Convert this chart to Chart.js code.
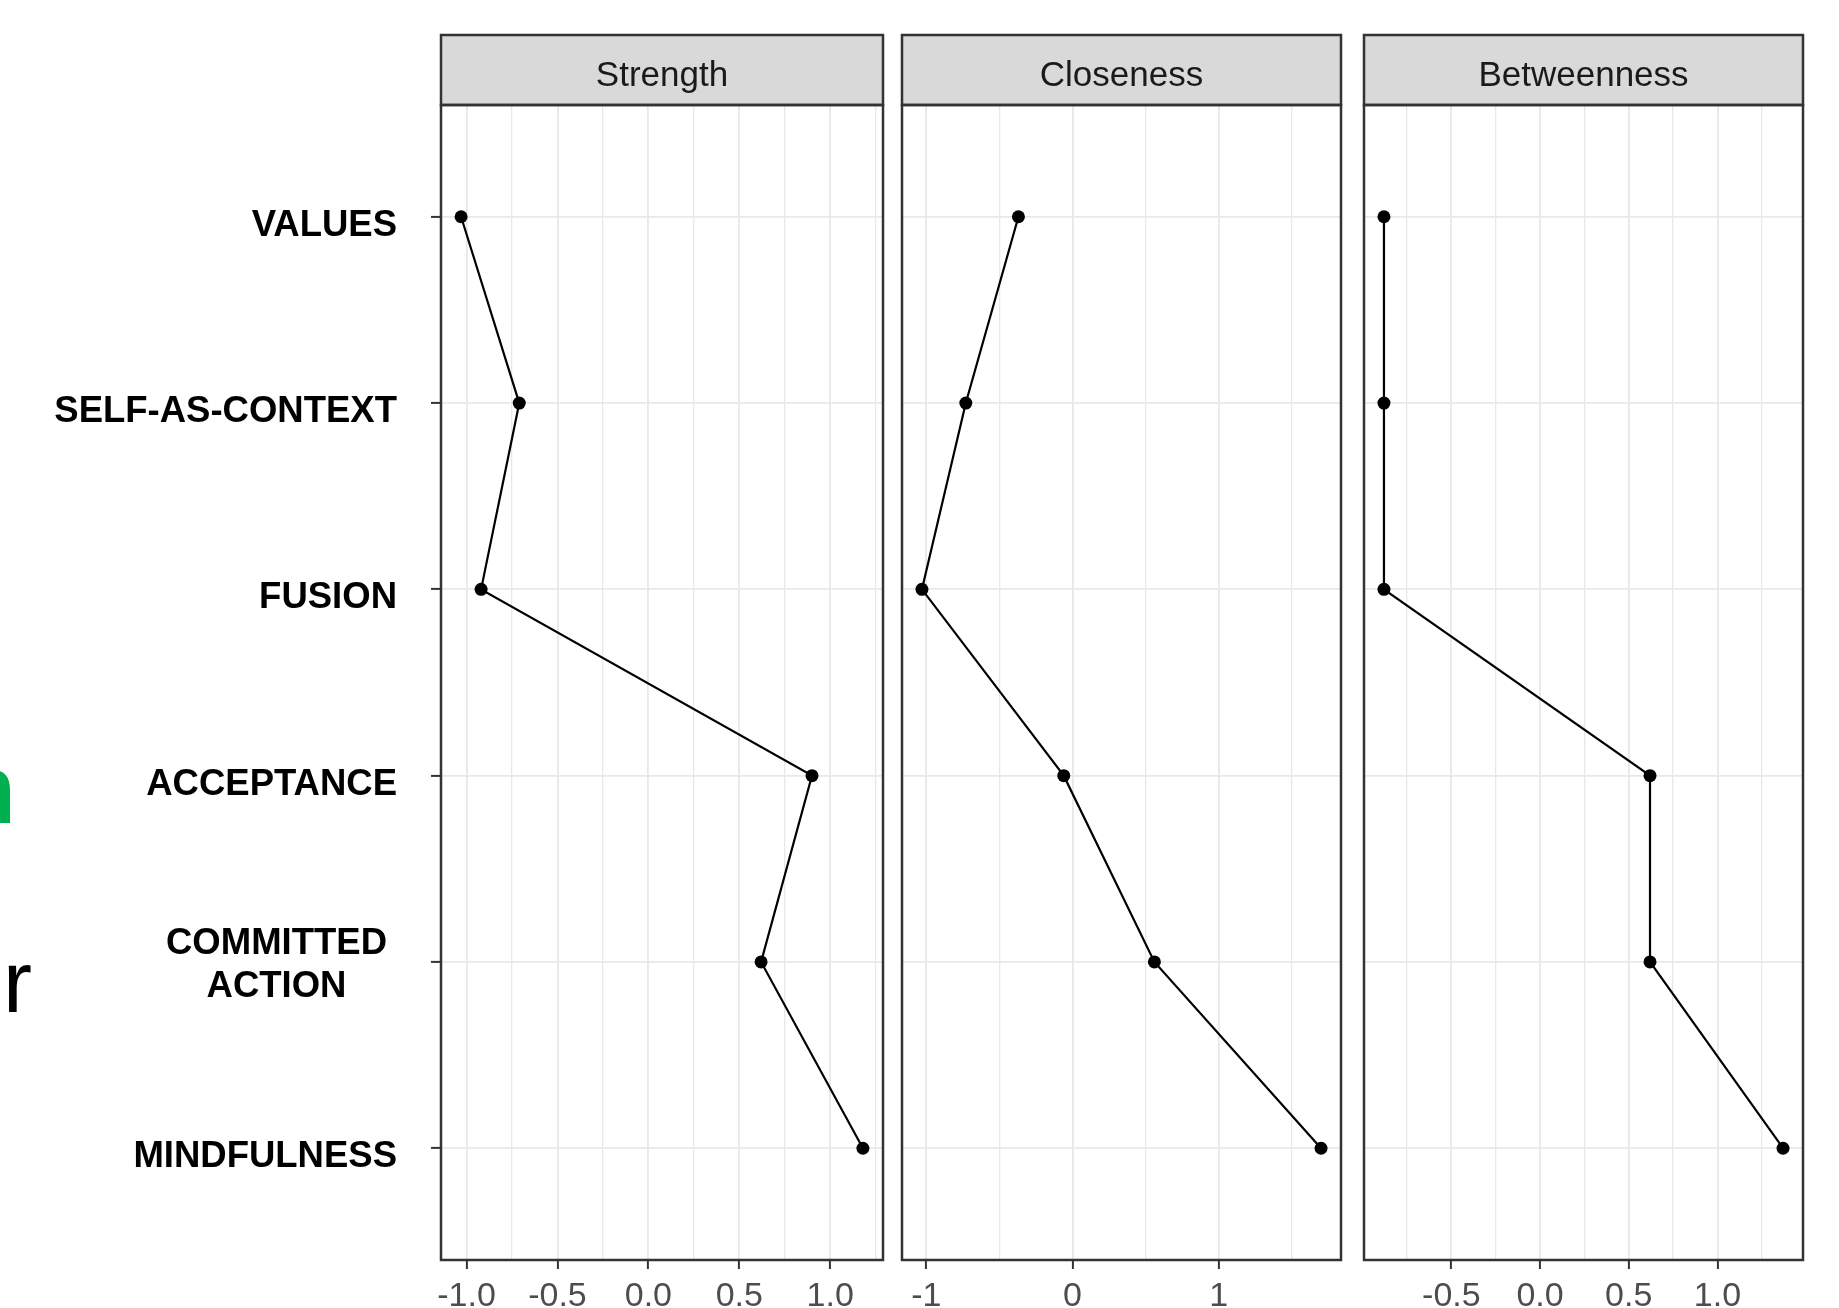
<!DOCTYPE html>
<html>
<head>
<meta charset="utf-8">
<script src="https://cdn.jsdelivr.net/npm/chart.js@4.4.1/dist/chart.umd.min.js"></script>
<style>
  html, body { margin: 0; padding: 0; background: #fff; }
  body { width: 1839px; height: 1308px; overflow: hidden; position: relative;
         font-family: "Liberation Sans", Arial, sans-serif; }
  canvas { position: absolute; left: 0; top: 0; }
  .frag { position: absolute; white-space: nowrap; line-height: 1; text-align: right;
          font-family: "Liberation Sans", Arial, sans-serif; }
</style>
</head>
<body>
<!-- edge of the slide text that sits behind the figure -->
<div class="frag" style="left:-200px;width:216px;top:740px;font-size:98px;font-weight:bold;color:#00b050">n</div>
<div class="frag" style="left:-200px;width:232px;top:938px;font-size:87px;color:#000">or</div>

<canvas id="c0" width="1839" height="1308"></canvas>
<canvas id="c1" width="1839" height="1308"></canvas>
<canvas id="c2" width="1839" height="1308"></canvas>

<script>
// Centrality indices (standardised) per ACT process
const categories = ['VALUES', 'SELF-AS-CONTEXT', 'FUSION', 'ACCEPTANCE', 'COMMITTED\nACTION', 'MINDFULNESS'];
const strength    = [-1.03, -0.71, -0.92, 0.90, 0.62, 1.18];
const closeness   = [-0.37, -0.73, -1.03, -0.06, 0.56, 1.70];
const betweenness = [-0.88, -0.88, -0.88, 0.62, 0.62, 1.37];

const panelTitles = ['Strength', 'Closeness', 'Betweenness'];
const strengthTicks    = [-1.0, -0.5, 0.0, 0.5, 1.0];
const closenessTicks   = [-1, 0, 1];
const betweennessTicks = [-0.5, 0.0, 0.5, 1.0];

// layout of the three facets on the page
const PAGE_W = 1839, PAGE_H = 1308;
const STRIP_TOP = 35, PANEL_TOP = 105, PANEL_BOTTOM = 1260;
const panels = [
  { id: 'c0', title: panelTitles[0], values: strength,    ticks: strengthTicks,    decimals: 1, left: 441,  right: 883 },
  { id: 'c1', title: panelTitles[1], values: closeness,   ticks: closenessTicks,   decimals: 0, left: 902,  right: 1341 },
  { id: 'c2', title: panelTitles[2], values: betweenness, ticks: betweennessTicks, decimals: 1, left: 1364, right: 1803 }
];

const FONT = '"Liberation Sans", Arial, sans-serif';
const BORDER = '#333333';

// ggplot-like 5% expansion of the data range
function expandedRange(vals) {
  const lo = Math.min(...vals), hi = Math.max(...vals);
  const pad = (hi - lo) * 0.05;
  return [lo - pad, hi + pad];
}

// minor breaks halfway between majors, kept inside the limits
function minorBreaks(majors, lo, hi) {
  const step = majors[1] - majors[0];
  const out = [];
  for (let v = majors[0] - step / 2; v <= majors[majors.length - 1] + step / 2 + 1e-9; v += step) {
    const r = Math.round(v * 1000) / 1000;
    if (r >= lo && r <= hi) out.push(r);
  }
  return out;
}

// strip header and panel frame
const facetFrame = {
  id: 'facetFrame',
  afterDraw(chart, args, opts) {
    const { ctx, chartArea: a } = chart;
    ctx.save();
    ctx.fillStyle = '#d9d9d9';
    ctx.fillRect(a.left, STRIP_TOP, a.right - a.left, a.top - STRIP_TOP);
    ctx.strokeStyle = BORDER;
    ctx.lineWidth = 2.5;
    ctx.strokeRect(a.left, STRIP_TOP, a.right - a.left, a.top - STRIP_TOP);
    ctx.strokeRect(a.left, a.top, a.right - a.left, a.bottom - a.top);
    ctx.fillStyle = '#1a1a1a';
    ctx.font = '35px ' + FONT;
    ctx.textAlign = 'center';
    ctx.textBaseline = 'alphabetic';
    ctx.fillText(opts.title, (a.left + a.right) / 2, 86);
    ctx.restore();
  }
};

// bold category names left of the first facet
const categoryLabels = {
  id: 'categoryLabels',
  afterDraw(chart, args, opts) {
    if (!opts.show) return;
    const { ctx } = chart;
    const y = chart.scales.y;
    const rightEdge = chart.chartArea.left - 44;
    const lineH = 43;
    ctx.save();
    ctx.fillStyle = '#000';
    ctx.font = 'bold 36.5px ' + FONT;
    ctx.textBaseline = 'alphabetic';
    categories.forEach((label, i) => {
      const lines = label.split('\n');
      const py = y.getPixelForValue(i + 1);
      if (lines.length === 1) {
        ctx.textAlign = 'right';
        ctx.fillText(lines[0], rightEdge, py + 19);
      } else {
        const maxW = Math.max(...lines.map(l => ctx.measureText(l).width));
        const cx = rightEdge - maxW / 2 - 10;
        ctx.textAlign = 'center';
        lines.forEach((l, k) => {
          ctx.fillText(l, cx, py + 13.5 + (k - (lines.length - 1) / 2) * lineH);
        });
      }
    });
    ctx.restore();
  }
};

panels.forEach((p, idx) => {
  const first = idx === 0;
  const [xmin, xmax] = expandedRange(p.values);
  const minors = minorBreaks(p.ticks, xmin, xmax);
  const isMajor = v => p.ticks.some(t => Math.abs(t - v) < 1e-6);
  const allTicks = [...p.ticks, ...minors].sort((a, b) => a - b);

  new Chart(document.getElementById(p.id), {
    type: 'scatter',
    data: {
      datasets: [{
        data: p.values.map((v, i) => ({ x: v, y: i + 1 })),
        showLine: true,
        borderColor: '#000',
        borderWidth: 2.2,
        backgroundColor: '#000',
        pointRadius: 6.5,
        pointBorderWidth: 0,
        pointBackgroundColor: '#000',
        tension: 0,
        fill: false,
        clip: false
      }]
    },
    options: {
      responsive: false,
      animation: false,
      events: [],
      layout: {
        padding: { left: first ? 0 : p.left, right: PAGE_W - p.right, top: PANEL_TOP, bottom: 0 }
      },
      plugins: {
        legend: { display: false },
        tooltip: { enabled: false },
        facetFrame: { title: p.title },
        categoryLabels: { show: first }
      },
      scales: {
        x: {
          type: 'linear',
          position: 'bottom',
          min: xmin,
          max: xmax,
          afterBuildTicks: s => { s.ticks = allTicks.map(v => ({ value: v })); },
          afterFit: s => { s.height = PAGE_H - PANEL_BOTTOM; },
          border: { display: false },
          grid: {
            color: '#e8e8e8',
            lineWidth: ctx => (ctx.tick && isMajor(ctx.tick.value)) ? 1.8 : 1.3,
            drawTicks: true,
            tickLength: 9,
            tickWidth: 2,
            tickColor: ctx => (ctx.tick && isMajor(ctx.tick.value)) ? BORDER : 'rgba(0,0,0,0)'
          },
          ticks: {
            autoSkip: false,
            maxRotation: 0,
            padding: 7,
            color: '#4d4d4d',
            font: { family: FONT, size: 34 },
            callback: v => isMajor(v) ? Number(v).toFixed(p.decimals) : ''
          }
        },
        y: {
          type: 'linear',
          position: 'left',
          reverse: true,
          min: 0.4,
          max: 6.6,
          afterBuildTicks: s => { s.ticks = categories.map((c, i) => ({ value: i + 1 })); },
          afterFit: s => { s.width = first ? p.left : 0; },
          border: { display: false },
          grid: {
            color: '#e8e8e8',
            lineWidth: 1.8,
            drawTicks: first,
            tickLength: 10,
            tickWidth: 2,
            tickColor: BORDER
          },
          ticks: { display: false }
        }
      }
    },
    plugins: [facetFrame, categoryLabels]
  });
});
</script>
</body>
</html>
